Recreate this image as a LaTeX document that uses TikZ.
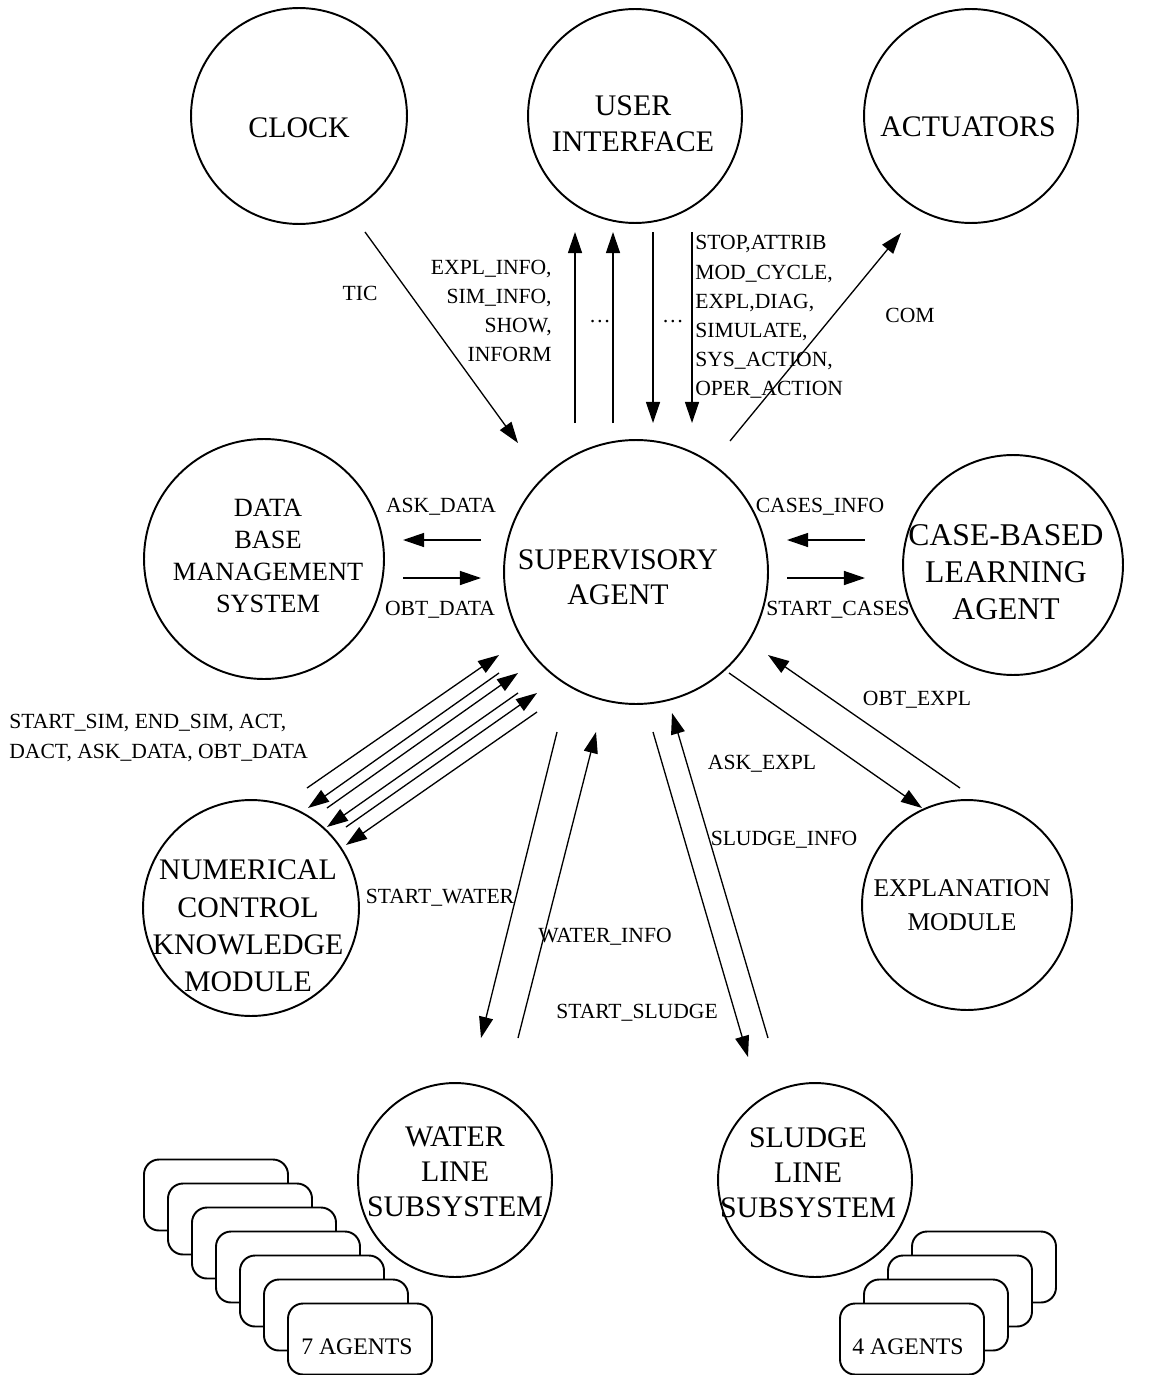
\documentclass[tikz,border=0pt]{standalone}
\usepackage{fontspec}
\setmainfont{Liberation Serif}
\usetikzlibrary{arrows.meta}

\tikzset{
  agent/.style={draw, circle, line width=1.1pt, inner sep=0pt},
  bigtxt/.style={inner sep=0pt, align=center, font=\fontsize{17}{20.5}\selectfont},
  midtxt/.style={inner sep=0pt, align=center, font=\fontsize{15}{18}\selectfont},
  lbl/.style={inner sep=0pt, font=\fontsize{12.3}{16.6}\selectfont},
  boxtxt/.style={inner sep=0pt, font=\fontsize{13.5}{15}\selectfont},
  msg/.style={line width=0.75pt, -{Triangle[length=12pt,width=8pt]}},
  agentbox/.style={draw, fill=white, rounded corners=0.3cm, line width=1.1pt,
    minimum width=2.88cm, minimum height=1.42cm}
}

\begin{document}
\begin{tikzpicture}[x=0.02cm, y=-0.02cm]
\useasboundingbox (0,0) rectangle (1164,1375);

% agents
\node[agent, minimum size=4.32cm] (clock) at (299,116) {};
\node[agent, minimum size=4.28cm] (ui) at (635,116) {};
\node[agent, minimum size=4.28cm] (act) at (971,116) {};
\node[agent, minimum size=4.8cm] (dbms) at (264,559) {};
\node[agent, minimum size=5.28cm] (sup) at (636,572) {};
\node[agent, minimum size=4.4cm] (cbl) at (1013,565) {};
\node[agent, minimum size=4.32cm] (nckm) at (251,908) {};
\node[agent, minimum size=4.2cm] (expl) at (967,905) {};
\node[agent, minimum size=3.88cm] (water) at (455,1180) {};
\node[agent, minimum size=3.88cm] (sludge) at (815,1180) {};

\node[bigtxt] (clocktxt) at (299,128) {CLOCK};
\node[bigtxt] (uitxt) at (633,124) {USER\\INTERFACE};
\node[bigtxt] (acttxt) at (968,127) {ACTUATORS};
\node[midtxt, font=\fontsize{15}{18.2}\selectfont] (dbmstxt) at (268,556) {DATA\\BASE\\MANAGEMENT\\SYSTEM};
\node[bigtxt, font=\fontsize{17}{20}\selectfont] (suptxt) at (618,577) {SUPERVISORY\\AGENT};
\node[bigtxt, font=\fontsize{18}{21}\selectfont] (cbltxt) at (1006,572) {CASE-BASED\\LEARNING\\AGENT};
\node[bigtxt, font=\fontsize{17}{21.3}\selectfont] (nckmtxt) at (248,926) {NUMERICAL\\CONTROL\\KNOWLEDGE\\MODULE};
\node[midtxt, font=\fontsize{14.5}{19.3}\selectfont] (expltxt) at (962,905) {EXPLANATION\\MODULE};
\node[bigtxt, font=\fontsize{17}{20}\selectfont] (watertxt) at (455,1172) {WATER\\LINE\\SUBSYSTEM};
\node[bigtxt, font=\fontsize{17}{20}\selectfont] (sludgetxt) at (808,1173) {SLUDGE\\LINE\\SUBSYSTEM};

% stacks of line agents
\foreach \k in {0,...,6}
  \node[agentbox] (wbox\k) at (216+24*\k,1195+24*\k) {};
\node[boxtxt] (wagents) at (357,1347) {7 AGENTS};
\foreach \k in {3,2,1,0}
  \node[agentbox] (sbox\k) at (912+24*\k,1339-24*\k) {};
\node[boxtxt] (sagents) at (908,1347) {4 AGENTS};

% end points of the messages
\coordinate (ticA) at (365,232); \coordinate (ticB) at (518,443);
\coordinate (upA1) at (575,423); \coordinate (upB1) at (575,232);
\coordinate (upA2) at (613,423); \coordinate (upB2) at (613,232);
\coordinate (dnA1) at (653,232); \coordinate (dnB1) at (653,423);
\coordinate (dnA2) at (692,232); \coordinate (dnB2) at (692,423);
\coordinate (comA) at (730,441); \coordinate (comB) at (901,233);
\coordinate (askA) at (481,540); \coordinate (askB) at (403,540);
\coordinate (obtA) at (403,578); \coordinate (obtB) at (481,578);
\coordinate (casA) at (865,540); \coordinate (casB) at (787,540);
\coordinate (stcA) at (787,578); \coordinate (stcB) at (865,578);
\coordinate (oexA) at (960,788); \coordinate (oexB) at (768,655);
\coordinate (aexA) at (729,673); \coordinate (aexB) at (922,808);
\coordinate (numA1) at (307,788); \coordinate (numB1) at (499,655);
\coordinate (numA2) at (499,673); \coordinate (numB2) at (308,808);
\coordinate (numA3) at (327,808); \coordinate (numB3) at (518,673);
\coordinate (numA4) at (518,693); \coordinate (numB4) at (327,827);
\coordinate (numA5) at (346,827); \coordinate (numB5) at (537,693);
\coordinate (numA6) at (537,712); \coordinate (numB6) at (346,845);
\coordinate (wdnA) at (557,732); \coordinate (wdnB) at (481,1038);
\coordinate (wupA) at (518,1038); \coordinate (wupB) at (596,732);
\coordinate (sdnA) at (653,732); \coordinate (sdnB) at (748,1057);
\coordinate (supA) at (768,1038); \coordinate (supB) at (672,713);

% messages
\draw[msg] (ticA) -- (ticB);
\draw[msg] (upA1) -- (upB1);
\draw[msg] (upA2) -- (upB2);
\draw[msg] (dnA1) -- (dnB1);
\draw[msg] (dnA2) -- (dnB2);
\draw[msg] (comA) -- (comB);
\draw[msg] (askA) -- (askB);
\draw[msg] (obtA) -- (obtB);
\draw[msg] (casA) -- (casB);
\draw[msg] (stcA) -- (stcB);
\draw[msg] (oexA) -- (oexB);
\draw[msg] (aexA) -- (aexB);
\foreach \i in {1,...,6}
  \draw[msg] (numA\i) -- (numB\i);
\draw[msg] (wdnA) -- (wdnB);
\draw[msg] (wupA) -- (wupB);
\draw[msg] (sdnA) -- (sdnB);
\draw[msg] (supA) -- (supB);

% message labels
\node[lbl] (tic) at (360,293) {TIC};
\node[lbl, align=right, anchor=east] (uiin) at (552,311) {EXPL\_INFO,\\SIM\_INFO,\\SHOW,\\INFORM};
\node[lbl] (dots1) at (600,322) {\ldots};
\node[lbl] (dots2) at (673,322) {\ldots};
\node[lbl, align=left, anchor=west] (uiout) at (695,317) {STOP,ATTRIB\\MOD\_CYCLE,\\EXPL,DIAG,\\SIMULATE,\\SYS\_ACTION,\\OPER\_ACTION};
\node[lbl] (com) at (910,315) {COM};
\node[lbl] (askdata) at (441,507) {ASK\_DATA};
\node[lbl] (obtdata) at (440,610) {OBT\_DATA};
\node[lbl] (casesinfo) at (820,507) {CASES\_INFO};
\node[lbl] (startcases) at (838,610) {START\_CASES};
\node[lbl] (obtexpl) at (917,700) {OBT\_EXPL};
\node[lbl] (askexpl) at (762,764) {ASK\_EXPL};
\node[lbl, align=left, anchor=west] (nummsg) at (9,738) {START\_SIM, END\_SIM, ACT,\\DACT, ASK\_DATA, OBT\_DATA};
\node[lbl] (startwater) at (440,898) {START\_WATER};
\node[lbl] (waterinfo) at (605,937) {WATER\_INFO};
\node[lbl] (startsludge) at (637,1013) {START\_SLUDGE};
\node[lbl] (sludgeinfo) at (784,840) {SLUDGE\_INFO};
\end{tikzpicture}
\end{document}
